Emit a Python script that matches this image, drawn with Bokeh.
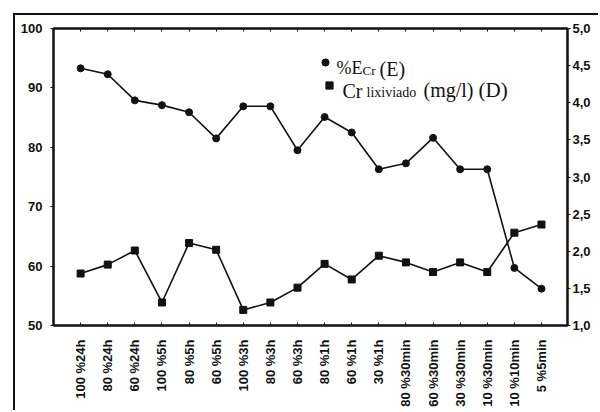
from bokeh.plotting import figure
from bokeh.models import (Range1d, LinearAxis, FixedTicker, CustomJSTickFormatter,
                          Legend, LegendItem, Label)
from bokeh.embed import file_html
from bokeh.resources import INLINE

categories = ["100 %24h", "80 %24h", "60 %24h", "100 %5h", "80 %5h", "60 %5h",
              "100 %3h", "80 %3h", "60 %3h", "80 %1h", "60 %1h", "30 %1h",
              "80 %30min", "60 %30min", "30 %30min", "10 %30min", "10 %10min", "5 %5min"]
e_cr = [93.3, 92.3, 87.9, 87.1, 85.9, 81.5, 86.9, 86.9, 79.5, 85.1, 82.5, 76.3,
        77.3, 81.6, 76.3, 76.3, 59.7, 56.2]
cr_lix = [1.70, 1.82, 2.01, 1.31, 2.11, 2.02, 1.21, 1.31, 1.51, 1.83, 1.62, 1.94,
          1.85, 1.72, 1.85, 1.72, 2.25, 2.36]
left_ticks = [50, 60, 70, 80, 90, 100]
right_ticks = [1.0, 1.5, 2.0, 2.5, 3.0, 3.5, 4.0, 4.5, 5.0]

xs = list(range(len(categories)))
INK = "#111111"
SANS = "Liberation Sans"
SERIF = "Liberation Serif"

p = figure(width=585, height=397, output_backend="svg", toolbar_location=None,
           x_range=Range1d(-1.0, 17.96), y_range=Range1d(50, 100),
           min_border_left=38, min_border_right=33, min_border_top=13, min_border_bottom=87)
p.margin = (13, 0, 0, 13)
p.styles = {"border-left": "2px solid #111111", "border-top": "2px solid #111111"}
p.background_fill_color = "white"
p.border_fill_color = "white"
p.outline_line_color = INK
p.outline_line_width = 2
p.xgrid.visible = False
p.ygrid.visible = False
p.extra_y_ranges = {"right": Range1d(1.0, 5.0)}

def style_axis(ax, tick_in, tick_out, standoff):
    ax.major_label_text_font = SANS
    ax.major_label_text_font_size = "13px"
    ax.major_label_text_font_style = "bold"
    ax.major_label_text_color = INK
    ax.major_tick_in = tick_in
    ax.major_tick_out = tick_out
    ax.major_label_standoff = standoff
    ax.minor_tick_line_color = None
    ax.axis_line_color = INK
    ax.axis_line_width = 2
    ax.major_tick_line_color = INK

# bottom axis
xa = p.xaxis[0]
xa.ticker = FixedTicker(ticks=xs)
xa.major_label_overrides = {i: c for i, c in enumerate(categories)}
xa.major_label_orientation = 1.5708
style_axis(xa, 3, 0, 14)

# left axis
ya = p.yaxis[0]
ya.ticker = FixedTicker(ticks=left_ticks)
style_axis(ya, 0, 3, 8)

# right axis
ra = LinearAxis(y_range_name="right", ticker=FixedTicker(ticks=right_ticks),
                formatter=CustomJSTickFormatter(code="return tick.toFixed(1).replace('.', ',');"))
style_axis(ra, 0, 3, 2)
p.add_layout(ra, "right")

# top axis (ticks only)
ta = LinearAxis(ticker=FixedTicker(ticks=xs),
                formatter=CustomJSTickFormatter(code="return '';"))
style_axis(ta, 3, 0, 0)
ta.major_label_text_font_size = "1px"
p.add_layout(ta, "above")

# series
l1 = p.line(xs, e_cr, line_color=INK, line_width=1.6)
s1 = p.scatter(xs, e_cr, marker="circle", size=7, fill_color=INK, line_color=INK)
l2 = p.line(xs, cr_lix, y_range_name="right", line_color=INK, line_width=1.6)
s2 = p.scatter(xs, cr_lix, y_range_name="right", marker="square", size=7,
               fill_color=INK, line_color=INK)

# legend markers (one legend per row; text drawn separately for subscripts)
def make_legend(renderers, loc):
    lg = Legend(items=[LegendItem(label=" ", renderers=renderers)],
                location=loc, padding=0, margin=0, spacing=0,
                glyph_width=18, glyph_height=18, label_height=18,
                label_standoff=0, border_line_color=None,
                background_fill_alpha=0,
                label_text_font=SERIF, label_text_font_size="18px",
                label_text_color=INK)
    p.add_layout(lg, "center")
    return lg

make_legend([s1], (263, 254))
make_legend([s2], (267, 231))

def lab(x, y, text, size):
    p.add_layout(Label(x=x, y=y, x_units="screen", y_units="screen", text=text,
                       text_font=SERIF, text_font_size=size, text_color=INK,
                       text_baseline="alphabetic"))

lab(283, 258, "%E", "18px")
lab(309, 255, "Cr", "13px")
lab(326, 257, "(E)", "20px")
lab(289, 235, "Cr", "20px")
lab(313, 233, "lixiviado", "14px")
lab(370, 236, "(mg/l)", "20px")
lab(425, 236, "(D)", "21px")

open("out.html", "w").write(file_html(p, INLINE))
